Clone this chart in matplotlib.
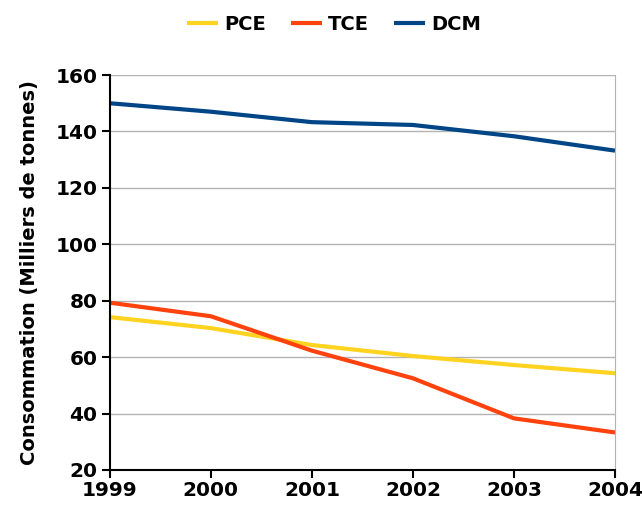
import matplotlib
matplotlib.use('Agg')
import matplotlib.pyplot as plt

# data
years = [1999, 2000, 2001, 2002, 2003, 2004]
pce = [74.2, 70.3, 64.3, 60.4, 57.2, 54.3]
tce = [79.3, 74.5, 62.3, 52.5, 38.3, 33.3]
dcm = [150.0, 147.0, 143.3, 142.3, 138.3, 133.2]

plt.rcParams['font.family'] = ['DejaVu Sans']
plt.rcParams['font.weight'] = 'bold'

fig = plt.figure(figsize=(6.42, 5.07), dpi=100)
ax = fig.add_axes([0.171, 0.073, 0.787, 0.779])

ax.plot(years, pce, color='#FFD320', lw=3, label='PCE', solid_capstyle='butt')
ax.plot(years, tce, color='#FF420E', lw=3, label='TCE', solid_capstyle='butt')
ax.plot(years, dcm, color='#004586', lw=3, label='DCM', solid_capstyle='butt')

ax.set_xlim(1999, 2004)
ax.set_ylim(20, 160)
ax.set_yticks(range(20, 161, 20))
ax.set_xticks(years)
ax.grid(axis='y', color='#b3b3b3', lw=1)
ax.set_axisbelow(True)

ax.spines['top'].set_visible(False)
ax.spines['right'].set_color('#b3b3b3')
ax.spines['left'].set_linewidth(1.5)
ax.spines['bottom'].set_linewidth(1.5)
ax.tick_params(axis='both', direction='out', length=6, width=1.5, labelsize=14.5)
ax.tick_params(axis='y', pad=3)
ax.tick_params(axis='x', pad=2)

ax.set_ylabel('Consommation (Milliers de tonnes)', fontsize=14, fontweight='bold', labelpad=12)

fig.legend(loc='upper center', bbox_to_anchor=(0.52, 1.005), ncol=3, frameon=False,
           fontsize=14, handlelength=1.6, handletextpad=0.3, columnspacing=1.3)

fig.savefig('out.png', dpi=100)
